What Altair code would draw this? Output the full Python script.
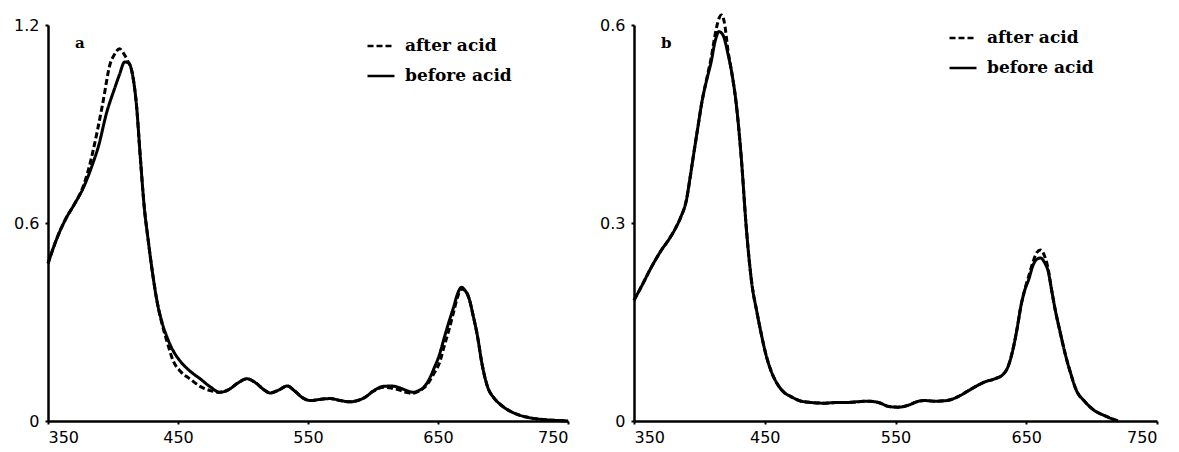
import altair as alt
import pandas as pd

# ---------------- Panel a ----------------
a_wl_before = [350, 357, 364, 370, 377, 384, 389, 395, 401, 405, 409, 412, 415, 418, 421, 424, 427, 430, 434, 438,
               442, 446, 452, 459, 467, 475, 482, 489, 496, 503, 510, 516, 521, 527, 534, 540, 546, 552, 560, 567,
               575, 582, 588, 594, 600, 608, 614, 621, 626, 631, 635, 639, 643, 647, 651, 655, 658, 662, 665, 668,
               671, 674, 677, 680, 684, 688, 693, 698, 704, 711, 718, 725, 735, 745, 750]
a_before = [0.477, 0.555, 0.615, 0.655, 0.705, 0.775, 0.835, 0.933, 1.005, 1.05, 1.088, 1.085, 1.05, 0.96, 0.80,
            0.65, 0.55, 0.46, 0.36, 0.295, 0.25, 0.215, 0.18, 0.152, 0.128, 0.103, 0.087, 0.095, 0.115, 0.128,
            0.115, 0.095, 0.085, 0.093, 0.106, 0.09, 0.07, 0.062, 0.066, 0.068, 0.062, 0.058, 0.062, 0.072, 0.09,
            0.105, 0.106, 0.10, 0.092, 0.087, 0.092, 0.102, 0.125, 0.16, 0.20, 0.255, 0.295, 0.345, 0.385, 0.405,
            0.395, 0.37, 0.32, 0.265, 0.17, 0.105, 0.07, 0.05, 0.033, 0.02, 0.012, 0.007, 0.003, 0.001, 0.0]

a_wl_after = [350, 357, 364, 370, 377, 381, 388, 392, 398, 401, 405, 408, 411, 415, 418, 421, 424, 427, 430, 434,
              438, 442, 446, 452, 459, 467, 475, 482, 489, 496, 503, 510, 516, 521, 527, 534, 540, 546, 552, 560,
              567, 575, 582, 588, 594, 600, 608, 614, 621, 626, 631, 635, 639, 643, 647, 651, 655, 658, 662, 665,
              668, 671, 674, 677, 680, 684, 688, 693, 698, 704, 711, 718, 725, 735, 745, 750]
a_after = [0.477, 0.555, 0.615, 0.655, 0.71, 0.76, 0.88, 0.96, 1.085, 1.11, 1.128, 1.115, 1.094, 1.05, 0.96, 0.80,
           0.65, 0.55, 0.46, 0.36, 0.29, 0.235, 0.185, 0.15, 0.128, 0.105, 0.092, 0.087, 0.095, 0.115, 0.128,
           0.115, 0.095, 0.085, 0.093, 0.106, 0.09, 0.07, 0.062, 0.066, 0.068, 0.062, 0.058, 0.062, 0.072, 0.09,
           0.102, 0.10, 0.093, 0.086, 0.084, 0.09, 0.10, 0.118, 0.145, 0.175, 0.23, 0.27, 0.33, 0.375, 0.40,
           0.395, 0.37, 0.32, 0.265, 0.17, 0.105, 0.07, 0.05, 0.033, 0.02, 0.012, 0.007, 0.003, 0.001, 0.0]

# ---------------- Panel b ----------------
b_wl_before = [350, 356, 363, 371, 377, 382, 386, 390, 393, 396, 399, 402, 406, 409, 412, 415, 418, 422, 425, 428,
               432, 436, 440, 444, 447, 451, 455, 460, 465, 470, 478, 486, 495, 505, 512, 520, 529, 537, 545, 552,
               560, 566, 572, 580, 589, 597, 605, 612, 618, 626, 632, 636, 640, 643, 646, 649, 652, 655, 658, 661,
               664, 667, 669, 672, 676, 680, 684, 688, 695, 702, 710, 720]
b_before = [0.183, 0.205, 0.232, 0.259, 0.276, 0.293, 0.31, 0.334, 0.37, 0.409, 0.447, 0.484, 0.52, 0.544, 0.575,
            0.59, 0.585, 0.555, 0.525, 0.484, 0.40, 0.29, 0.21, 0.165, 0.135, 0.10, 0.075, 0.055, 0.043, 0.037,
            0.03, 0.028, 0.027, 0.028, 0.028, 0.029, 0.03, 0.028, 0.022, 0.021, 0.024, 0.029, 0.031, 0.03, 0.031,
            0.036, 0.045, 0.053, 0.059, 0.064, 0.07, 0.082, 0.11, 0.14, 0.175, 0.199, 0.215, 0.235, 0.245, 0.247,
            0.24, 0.225, 0.203, 0.17, 0.134, 0.10, 0.072, 0.048, 0.029, 0.016, 0.008, 0.0]

b_wl_after = [350, 356, 363, 371, 377, 382, 386, 390, 393, 396, 399, 402, 406, 409, 412, 415, 417, 419, 422, 425,
              428, 432, 436, 440, 444, 447, 451, 455, 460, 465, 470, 478, 486, 495, 505, 512, 520, 529, 537, 545,
              552, 560, 566, 572, 580, 589, 597, 605, 612, 618, 626, 632, 636, 640, 643, 646, 649, 652, 655, 658,
              661, 664, 667, 669, 672, 676, 680, 684, 688, 695, 702, 710, 720]
b_after = [0.183, 0.205, 0.232, 0.259, 0.276, 0.293, 0.31, 0.334, 0.37, 0.409, 0.447, 0.484, 0.522, 0.55, 0.585,
           0.61, 0.615, 0.605, 0.56, 0.525, 0.484, 0.40, 0.29, 0.21, 0.165, 0.135, 0.10, 0.075, 0.055, 0.043,
           0.037, 0.03, 0.028, 0.027, 0.028, 0.028, 0.029, 0.03, 0.028, 0.022, 0.021, 0.024, 0.029, 0.031, 0.03,
           0.031, 0.036, 0.045, 0.053, 0.059, 0.064, 0.07, 0.082, 0.11, 0.14, 0.175, 0.2, 0.22, 0.24, 0.255,
           0.259, 0.25, 0.228, 0.203, 0.17, 0.134, 0.10, 0.072, 0.048, 0.029, 0.016, 0.008, 0.0]

series_names = ["after acid", "before acid"]
x_ticks = [350, 450, 550, 650, 750]
a_y_ticks = [0, 0.6, 1.2]
b_y_ticks = [0, 0.3, 0.6]


def make_df(wl_before, before, wl_after, after):
    d1 = pd.DataFrame({"wl": wl_before, "A": before, "series": "before acid"})
    d2 = pd.DataFrame({"wl": wl_after, "A": after, "series": "after acid"})
    return pd.concat([d2, d1], ignore_index=True)


H = 396
TICK_FONT = "DejaVu Sans"
SERIF = "DejaVu Serif"


def panel(df, ymax, yticks, label, legend_x, legend_y, width):
    x = alt.X("wl:Q", scale=alt.Scale(domain=[350, 750], nice=False, zero=False),
              axis=alt.Axis(values=x_ticks, title=None, grid=False, domainColor="black", domainWidth=2.5,
                            tickColor="black", tickWidth=2, tickSize=3, labelFont=TICK_FONT, labelFontSize=16,
                            labelColor="black", labelPadding=5))
    y = alt.Y("A:Q", scale=alt.Scale(domain=[0, ymax], nice=False),
              axis=alt.Axis(values=yticks, title=None, grid=False, domainColor="black", domainWidth=2.5,
                            tickColor="black", tickWidth=2, tickSize=3, labelFont=TICK_FONT, labelFontSize=16,
                            labelColor="black", labelPadding=6, minExtent=35, maxExtent=35,
                            labelExpr="datum.value == 0 ? '0' : format(datum.value, '.1f')"))
    lines = alt.Chart(df).mark_line(interpolate="monotone", strokeWidth=3, color="black").encode(
        x=x, y=y,
        strokeDash=alt.StrokeDash(
            "series:N",
            scale=alt.Scale(domain=series_names, range=[[6, 3], [1, 0]]),
            legend=alt.Legend(title=None, orient="none", legendX=legend_x, legendY=legend_y,
                              symbolType="stroke", symbolSize=729, symbolStrokeWidth=2.5,
                              symbolStrokeColor="black", labelFont=SERIF, labelFontWeight="bold",
                              labelFontSize=17, labelColor="black", rowPadding=7, labelOffset=9),
        ),
    )
    lab = alt.Chart(pd.DataFrame({"t": [label]})).mark_text(
        font=SERIF, fontWeight="bold", fontSize=15, color="black", align="left", baseline="middle"
    ).encode(x=alt.value(27), y=alt.value(18), text="t:N")
    return alt.layer(lines, lab).properties(width=width, height=H)


pa = panel(make_df(a_wl_before, a_before, a_wl_after, a_after), 1.2, a_y_ticks, "a", 318, 6, 520)
pb = panel(make_df(b_wl_before, b_before, b_wl_after, b_after), 0.6, b_y_ticks, "b", 314, -2, 523)

chart = alt.hconcat(pa, pb, spacing=25).resolve_scale(strokeDash="independent").resolve_legend(
    strokeDash="independent"
).properties(
    padding={"left": 5, "right": 5, "top": 1, "bottom": 0}, background="white"
).configure_view(stroke=None)

chart.save("out.html", embed_options={"renderer": "svg", "actions": False})
